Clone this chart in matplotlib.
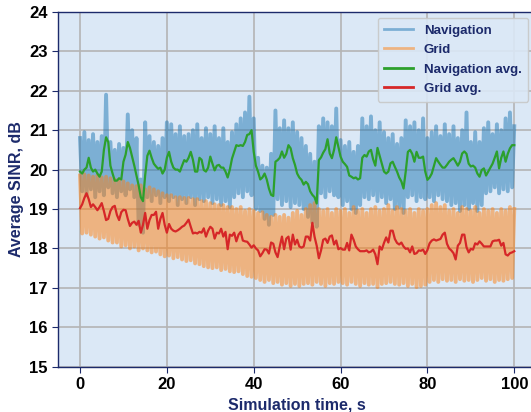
import numpy as np
import matplotlib
matplotlib.use("Agg")
from matplotlib import pyplot as plt

# raw series: local maxima at whole seconds, local minima at half seconds
nav_hi = [20.8, 20.95, 20.75, 20.9, 20.7, 20.85, 21.9, 20.7, 20.5, 20.65,
          20.55, 21.4, 21.0, 20.8, 19.75, 21.2, 20.85, 20.7, 20.6, 20.8,
          21.2, 21.15, 20.9, 21.1, 20.85, 20.9, 21.0, 21.15, 20.8, 21.05,
          20.9, 21.1, 20.8, 21.05, 20.7, 20.95, 21.15, 21.3, 21.45, 21.85,
          21.3, 20.3, 20.1, 20.05, 20.4, 21.5, 21.05, 21.25, 21.05, 21.2,
          20.95, 20.8, 20.6, 20.4, 20.2, 21.1, 21.3, 21.2, 21.1, 21.55,
          20.75, 20.6, 20.7, 20.45, 20.6, 21.3, 21.1, 21.35, 21.0, 21.2,
          20.95, 20.8, 20.9, 20.65, 20.8, 21.25, 21.1, 21.2, 21.0, 21.3,
          20.8, 20.95, 21.1, 20.85, 21.15, 20.9, 21.1, 20.8, 21.0, 21.45,
          20.7, 20.95, 20.7, 21.05, 21.2, 20.9, 21.15, 21.0, 21.3, 21.45,
          21.1]
nav_lo = [19.45, 19.35, 19.5, 19.3, 19.45, 19.35, 19.55, 19.4, 19.3, 19.45,
          19.35, 19.5, 19.3, 18.6, 18.4, 19.3, 19.2, 19.35, 19.15, 19.3,
          19.2, 19.3, 19.1, 19.25, 19.15, 19.3, 19.1, 19.25, 19.2, 19.3,
          19.15, 19.25, 19.1, 19.2, 19.05, 19.3, 19.4, 19.3, 19.45, 19.35,
          19.0, 18.95, 18.75, 18.6, 18.85, 19.25, 19.1, 19.2, 19.05, 19.15,
          19.1, 19.0, 18.8, 18.65, 18.55, 19.4, 19.3, 19.45, 19.35, 19.3,
          19.1, 19.2, 19.0, 18.9, 19.1, 19.3, 19.25, 19.35, 19.2, 19.3,
          19.15, 19.25, 19.0, 19.05, 18.9, 19.3, 19.35, 19.2, 19.3, 19.25,
          19.3, 19.2, 19.35, 19.25, 19.2, 19.1, 19.15, 18.95, 19.1, 19.0,
          19.15, 18.95, 19.1, 19.4, 19.45, 19.55, 19.4, 19.5, 19.45, 19.55]
grid_hi = [19.85, 19.88, 19.85, 19.82, 19.85, 19.8, 19.82, 19.78, 19.75, 19.75,
           19.7, 19.65, 19.6, 19.58, 19.6, 19.5, 19.55, 19.5, 19.45, 19.4,
           19.35, 19.35, 19.3, 19.3, 19.28, 19.28, 19.25, 19.25, 19.2, 19.2,
           19.15, 19.12, 19.1, 19.1, 19.05, 19.05, 19.0, 19.05, 18.95, 19.0,
           18.95, 18.9, 18.92, 18.85, 18.8, 18.85, 18.8, 18.85, 18.78, 18.9,
           18.95, 18.85, 19.0, 19.1, 19.15, 19.0, 18.95, 19.0, 18.9, 19.0,
           18.95, 19.0, 18.9, 19.05, 18.95, 19.0, 18.9, 19.0, 19.05, 18.95,
           19.0, 19.1, 18.95, 19.05, 19.0, 18.95, 19.0, 18.9, 19.0, 18.95,
           19.0, 19.1, 19.15, 19.05, 19.1, 18.95, 19.0, 18.9, 19.05, 19.0,
           18.95, 19.05, 18.9, 19.0, 18.95, 19.0, 18.9, 19.0, 18.95, 19.05,
           19.0]
grid_lo = [18.38, 18.4, 18.35, 18.3, 18.25, 18.28, 18.2, 18.15, 18.15, 18.05,
           18.08, 18.0, 18.05, 17.95, 18.0, 17.95, 17.9, 17.92, 17.85, 17.8,
           17.82, 17.75, 17.78, 17.72, 17.68, 17.7, 17.62, 17.6, 17.55, 17.52,
           17.5, 17.52, 17.45, 17.48, 17.42, 17.4, 17.42, 17.35, 17.3, 17.28,
           17.25, 17.2, 17.15, 17.2, 17.12, 17.15, 17.08, 17.12, 17.05, 17.1,
           17.05, 17.1, 17.12, 17.08, 17.15, 17.1, 17.05, 17.12, 17.1, 17.15,
           17.12, 17.08, 17.15, 17.1, 17.05, 17.12, 17.08, 17.1, 17.02, 17.1,
           17.12, 17.15, 17.1, 17.08, 17.12, 17.05, 17.1, 17.02, 17.05, 17.08,
           17.15, 17.2, 17.15, 17.22, 17.18, 17.2, 17.15, 17.22, 17.18, 17.2,
           17.15, 17.2, 17.25, 17.18, 17.22, 17.15, 17.2, 17.18, 17.22, 17.25]

# averaged series, every 0.5 s
nav_avg = [19.95, 19.9, 20.0, 20.05, 20.3, 20.05, 19.95, 20.0, 19.9, 19.82,
           19.95, 20.5, 20.82, 20.7, 20.1, 19.9, 19.72, 19.72, 19.78, 19.75,
           20.2, 20.38, 20.7, 20.55, 20.33, 20.1, 19.85, 19.6, 19.3, 19.2,
           19.85, 20.35, 20.48, 20.3, 20.15, 20.08, 20.02, 20.05, 19.9, 20.0,
           20.3, 20.45, 20.2, 20.05, 20.0, 20.0, 19.95, 20.1, 20.24, 20.2,
           20.3, 20.45, 20.25, 19.95, 19.95, 20.3, 20.25, 19.99, 19.95, 20.05,
           20.33, 20.15, 19.98, 20.1, 20.12, 20.05, 20.05, 19.95, 19.8, 20.0,
           20.28, 20.45, 20.62, 20.6, 20.62, 20.6, 20.7, 20.88, 20.9, 21.0,
           20.45, 20.1, 19.95, 19.75, 19.8, 19.9, 19.75, 19.52, 19.36, 19.33,
           20.2, 20.24, 20.3, 20.46, 20.3, 20.4, 20.62, 20.54, 20.29, 20.12,
           19.9, 19.8, 19.74, 19.62, 19.69, 19.63, 19.45, 19.36, 19.3, 19.14,
           20.24, 20.31, 20.43, 20.52, 20.77, 20.41, 20.29, 20.5, 20.82, 20.58,
           20.33, 20.2, 20.14, 20.07, 19.85, 19.82, 19.78, 19.8, 19.75, 19.78,
           20.3, 20.37, 20.33, 20.46, 20.5, 20.26, 20.1, 20.55, 20.35, 20.15,
           19.95, 19.9, 19.95, 20.16, 20.2, 20.07, 19.95, 19.8, 19.7, 19.52,
           19.95, 20.45, 20.5, 20.4, 20.2, 20.45, 20.3, 20.3, 20.33, 19.95,
           19.74, 19.8, 19.9, 20.1, 20.29, 20.2, 20.12, 20.05, 20.05, 20.12,
           20.2, 20.25, 20.29, 20.2, 20.1, 20.2, 20.41, 20.46, 20.4, 20.15,
           20.08, 20.1, 20.05, 19.9, 19.82, 19.99, 20.03, 19.85, 19.95, 20.05,
           20.15, 20.3, 20.46, 20.03, 20.3, 20.46, 20.2, 20.4, 20.54, 20.62,
           20.62]
grid_avg = [19.02, 19.12, 19.28, 19.4, 19.25, 19.05, 19.12, 19.05, 18.97, 19.05,
            19.15, 18.95, 18.72, 18.75, 18.95, 19.05, 19.08, 18.85, 18.72, 18.92,
            18.98, 18.97, 18.75, 18.57, 18.65, 18.68, 18.6, 18.7, 18.4, 18.6,
            18.9, 18.5, 18.72, 18.85, 18.85, 18.93, 18.5, 18.75, 18.9, 18.6,
            18.4, 18.62, 18.5, 18.45, 18.43, 18.46, 18.5, 18.55, 18.58, 18.65,
            18.73, 18.55, 18.38, 18.4, 18.38, 18.42, 18.4, 18.51, 18.3, 18.45,
            18.55, 18.5, 18.25, 18.4, 18.38, 18.5, 18.3, 18.42, 17.98, 18.35,
            18.32, 18.4, 18.18, 18.35, 18.42, 18.2, 18.18, 18.17, 18.1, 18.02,
            18.08, 18.0, 17.95, 17.8, 17.88, 17.98, 17.97, 17.87, 18.15, 18.12,
            17.9, 17.78, 18.05, 18.3, 17.98, 18.25, 18.3, 17.97, 18.35, 18.1,
            18.22, 18.05, 18.02, 18.05, 18.3, 18.3, 18.2, 18.65, 18.3, 18.07,
            17.75, 17.95, 18.22, 18.25, 18.14, 18.3, 18.33, 18.1, 18.2, 17.98,
            18.01, 17.97, 17.97, 18.14, 17.95, 18.35, 18.22, 18.05, 17.98, 17.93,
            17.93, 17.93, 17.95, 17.9, 17.92, 17.97, 17.85, 17.6, 18.05, 17.97,
            18.14, 18.28, 18.15, 18.45, 18.45, 18.24, 18.14, 18.1, 18.15, 18.05,
            17.99, 18.0, 17.9, 18.05, 17.86, 17.88, 17.95, 17.94, 17.97, 17.86,
            17.96, 18.13, 18.2, 18.23, 18.2, 18.22, 18.24, 18.35, 18.4, 18.12,
            18.0, 17.95, 17.88, 17.72, 18.07, 18.14, 18.35, 18.35, 18.03, 17.9,
            17.99, 17.97, 18.13, 18.1, 18.18, 18.12, 18.05, 18.05, 18.05, 18.05,
            18.18, 18.2, 18.2, 18.22, 18.07, 18.14, 17.85, 17.82, 17.88, 17.9,
            17.93]

t = np.arange(len(nav_avg)) * 0.5

# interleave maxima / minima into one raw trace
nav_raw = np.empty(len(nav_hi) + len(nav_lo))
nav_raw[0::2] = nav_hi
nav_raw[1::2] = nav_lo
grid_raw = np.empty(len(grid_hi) + len(grid_lo))
grid_raw[0::2] = grid_hi
grid_raw[1::2] = grid_lo

navy = "#1c2a6b"
plt.rcParams["font.family"] = ["Liberation Sans", "DejaVu Sans"]

fig = plt.figure(figsize=(5.31, 4.12), dpi=100)
ax = fig.add_axes([0.1098, 0.11, 0.8996, 0.861])
ax.set_facecolor("#dbe8f6")

ax.plot(t, nav_raw, color="#1f77b4", alpha=0.5, lw=2.8, label="Navigation")
ax.plot(t, grid_raw, color="#ff7f0e", alpha=0.5, lw=2.8, label="Grid")
ax.plot(t, nav_avg, color="#2ca02c", lw=1.6, label="Navigation avg.")
ax.plot(t, grid_avg, color="#d62728", lw=1.6, label="Grid avg.")

ax.set_xlim(-5, 105)
ax.set_ylim(15, 24)
ax.set_xticks([0, 20, 40, 60, 80, 100])
ax.set_yticks(range(15, 25))
ax.grid(True, color="#b4b4b4", lw=1.2)
ax.set_axisbelow(True)
for s in ax.spines.values():
    s.set_color(navy)
    s.set_linewidth(1.0)
ax.tick_params(colors=navy, labelcolor="black", labelsize=12, length=4)
for lab in ax.get_xticklabels() + ax.get_yticklabels():
    lab.set_fontweight("bold")

ax.set_xlabel("Simulation time, s", color=navy, fontsize=11.5, fontweight="bold")
ax.set_ylabel("Average SINR, dB", color=navy, fontsize=11.5, fontweight="bold")

leg = ax.legend(loc="upper right", bbox_to_anchor=(0.995, 0.957),
                bbox_transform=fig.transFigure, borderaxespad=0, fontsize=9.5,
                facecolor="#dbe8f6", edgecolor="#c8c8c8", framealpha=0.9,
                handlelength=2.2, labelspacing=0.55, borderpad=0.5)
for line in leg.get_lines():
    line.set_linewidth(2.0)
for txt in leg.get_texts():
    txt.set_color(navy)
    txt.set_fontweight("bold")

fig.savefig("out.png", dpi=100)
